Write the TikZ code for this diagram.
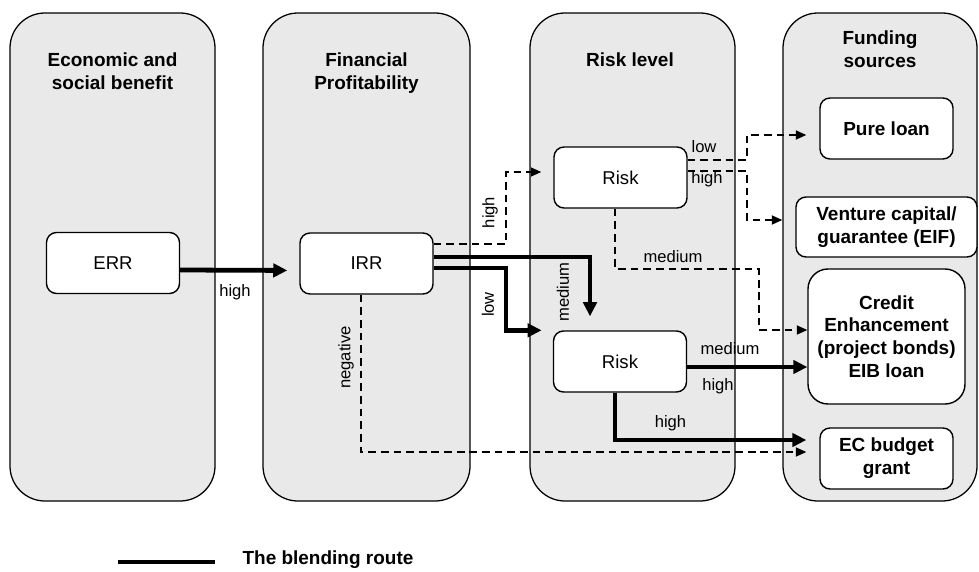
\documentclass[tikz,border=0pt]{standalone}
\usepackage{fontspec}
\setmainfont{Liberation Sans}
\usetikzlibrary{arrows.meta,calc}

\definecolor{lanegray}{RGB}{233,233,233}

\begin{document}
\begin{tikzpicture}[x=0.25mm, y=0.25mm, thick,
    lane/.style={draw, line width=0.9pt, fill=lanegray, rounded corners=0.875cm,
        inner sep=0pt, minimum width=#1, minimum height=12.2cm},
    lanetitle/.style={anchor=north, inner sep=0pt, align=center,
        font=\bfseries\fontsize{13.5}{16.2}\selectfont},
    stepbox/.style={draw, fill=white, line width=1pt, rounded corners=0.25cm,
        minimum width=3.325cm, minimum height=1.525cm, inner sep=2pt,
        font=\fontsize{13.2}{15}\selectfont},
    fundbox/.style={stepbox, align=center, font=\bfseries\fontsize{13.5}{16.2}\selectfont},
    route/.style={line width=3.4pt, -{Triangle[length=10pt, width=9.5pt]}},
    sideroute/.style={line width=1pt, dash pattern=on 5.5pt off 3.5pt,
        -{Triangle[length=7.5pt, width=6.5pt]}},
    lbl/.style={inner sep=0pt, font=\fontsize{11.8}{13}\selectfont}]

    \useasboundingbox (0,0) rectangle (979,571);

    %========================
    % Lanes
    %========================
    \node[lane=5.125cm] (laneA) at (112.5,314) {};
    \node[lane=5.175cm] (laneB) at (366.5,314) {};
    \node[lane=5.125cm] (laneC) at (632.5,314) {};
    \node[lane=4.85cm]  (laneD) at (880,314) {};

    \node[lanetitle] (titleA) at (112.5,519) {Economic and\\social benefit};
    \node[lanetitle] (titleB) at (366.5,519) {Financial\\Profitability};
    \node[lanetitle] (titleC) at (630,519) {Risk level};
    \node[lanetitle] (titleD) at (880,541) {Funding\\sources};

    %========================
    % Boxes
    %========================
    \node[stepbox] (err)   at (113,308)   {ERR};
    \node[stepbox] (irr)   at (366.5,307.5) {IRR};
    \node[stepbox] (risk1) at (620.5,393.5) {Risk};
    \node[stepbox] (risk2) at (620,209.5) {Risk};

    \node[fundbox] (pure)    at (886.5,442.5) {Pure loan};
    \node[fundbox, minimum width=4.525cm, minimum height=1.5cm]
        (venture) at (886.5,344) {Venture capital/\\guarantee (EIF)};
    \node[fundbox, minimum width=3.925cm, minimum height=3.375cm, rounded corners=0.5cm]
        (credit)  at (886.5,234.5) {Credit\\Enhancement\\(project bonds)\\EIB loan};
    \node[fundbox] (ecgrant) at (886.5,112.5) {EC budget\\grant};

    %========================
    % Blending route (thick)
    %========================
    % ERR to IRR
    \draw[route, shorten >=0.3cm] ($(err.east)+(0,-7)$) -- ($(irr.west)+(0,-7)$);
    \node[lbl] (lErr) at (235,279) {high};

    % IRR to lower risk, medium
    \draw[route, shorten >=0.35cm] ($(irr.east)+(0,6.5)$) -| ($(risk2.north)+(-30,0)$);
    \node[lbl, rotate=90] (lMed) at (563,279) {medium};

    % IRR to lower risk, low
    \draw[route, shorten >=0.28cm] ($(irr.east)+(0,-4.5)$) -- (506,303) |- (risk2.north west);
    \node[lbl, rotate=90] (lLow) at (488,266.5) {low};

    % lower risk to credit enhancement
    \draw[route] ($(risk2.east)+(0,-5.5)$) -- ($(credit.west)+(0,-30.5)$);
    \node[lbl] (lMedB) at (730,222) {medium};
    \node[lbl] (lHighB) at (718,184.5) {high};

    % lower risk to EC grant
    \draw[route, shorten >=0.325cm] ($(risk2.south)+(-5,0)$) |- ($(ecgrant.west)+(0,18.5)$);
    \node[lbl] (lHighC) at (670.5,147.5) {high};

    %========================
    % Other routes (dashed)
    %========================
    % IRR to upper risk
    \draw[sideroute, shorten >=0.3cm] ($(irr.east)+(0,19.5)$) -- (506,327) |- ($(risk1.west)+(0,5.5)$);
    \node[lbl, rotate=90] (lHigh) at (490,358.5) {high};

    % IRR to EC grant
    \draw[sideroute, shorten >=0.325cm] ($(irr.south)+(-5.5,0)$) |- ($(ecgrant.west)+(0,6.5)$);
    \node[lbl, rotate=90] (lNeg) at (346,213.5) {negative};

    % upper risk to pure loan
    \draw[sideroute, shorten >=0.325cm] ($(risk1.east)+(0,17.5)$) -- (747,411) |- ($(pure.west)+(0,-6.5)$);
    \node[lbl] (lLowA) at (704,424.5) {low};

    % upper risk to venture capital
    \draw[sideroute, shorten >=0.325cm] ($(risk1.east)+(0,6.5)$) -- (747,400) |- ($(venture.west)+(0,7)$);
    \node[lbl] (lHighA) at (707,391.5) {high};

    % upper risk to credit enhancement
    \draw[sideroute] ($(risk1.south)+(-5.5,0)$) -- (615,302) -- (759,302) |- ($(credit.west)+(0,6.5)$);
    \node[lbl] (lMedA) at (673,314) {medium};

    %========================
    % Legend
    %========================
    \coordinate (legA) at (118,9);
    \coordinate (legB) at (215,9);
    \draw[line width=3.4pt] (legA) -- (legB);
    \node[anchor=west, inner sep=0pt, font=\bfseries\fontsize{13.5}{16}\selectfont]
        (legText) at (242,11) {The blending route};

\end{tikzpicture}
\end{document}
